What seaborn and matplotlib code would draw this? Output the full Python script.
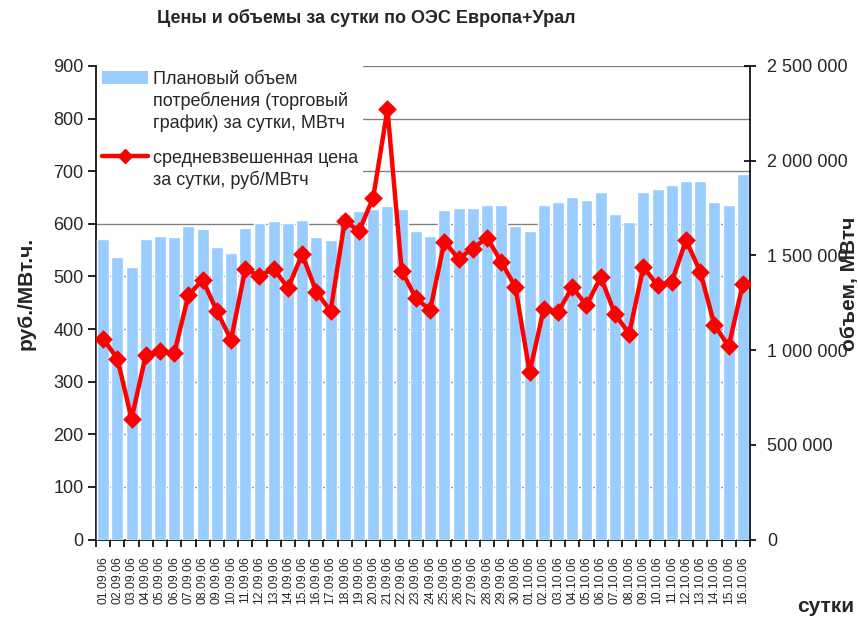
import matplotlib
matplotlib.use("Agg")
import matplotlib.pyplot as plt
from matplotlib.patches import Patch
from matplotlib.lines import Line2D
from matplotlib.ticker import FixedLocator, MultipleLocator
import seaborn as sns
import pandas as pd

# ---------------- data ----------------
dates = ['01.09.06', '02.09.06', '03.09.06', '04.09.06', '05.09.06', '06.09.06',
         '07.09.06', '08.09.06', '09.09.06', '10.09.06', '11.09.06', '12.09.06',
         '13.09.06', '14.09.06', '15.09.06', '16.09.06', '17.09.06', '18.09.06',
         '19.09.06', '20.09.06', '21.09.06', '22.09.06', '23.09.06', '24.09.06',
         '25.09.06', '26.09.06', '27.09.06', '28.09.06', '29.09.06', '30.09.06',
         '01.10.06', '02.10.06', '03.10.06', '04.10.06', '05.10.06', '06.10.06',
         '07.10.06', '08.10.06', '09.10.06', '10.10.06', '11.10.06', '12.10.06',
         '13.10.06', '14.10.06', '15.10.06', '16.10.06']

volume = [1587000, 1494000, 1441000, 1587000, 1605000, 1596000, 1656000, 1638000,
          1543000, 1512000, 1647000, 1673000, 1682000, 1673000, 1687000, 1596000,
          1582000, 1718000, 1735000, 1744000, 1761000, 1744000, 1631000, 1605000,
          1740000, 1749000, 1749000, 1767000, 1767000, 1656000, 1631000, 1767000,
          1784000, 1811000, 1793000, 1835000, 1718000, 1679000, 1835000, 1853000,
          1871000, 1895000, 1895000, 1784000, 1767000, 1929000]

price = [382, 344, 230, 350, 359, 354, 464, 494, 434, 380, 514, 501, 515, 478,
         542, 471, 434, 606, 586, 650, 818, 511, 459, 436, 566, 534, 553, 574,
         528, 480, 318, 439, 432, 480, 445, 499, 429, 391, 518, 483, 490, 569,
         509, 408, 367, 486]

price_ticks = [0, 100, 200, 300, 400, 500, 600, 700, 800, 900]
price_tick_labels = ['0', '100', '200', '300', '400', '500', '600', '700', '800', '900']
volume_ticks = [0, 500000, 1000000, 1500000, 2000000, 2500000]
volume_tick_labels = ['0', '500 000', '1 000 000', '1 500 000', '2 000 000', '2 500 000']

title = 'Цены и объемы за сутки по ОЭС Европа+Урал'
left_label = 'руб./МВт.ч.'
right_label = 'объем, МВтч'
x_label = 'сутки'
bar_label = 'Плановый объем\nпотребления (торговый\nграфик) за сутки, МВтч'
line_label = 'средневзвешенная цена\nза сутки, руб/МВтч'

# ---------------- style ----------------
sns.set_theme(style='white')
plt.rcParams['font.family'] = ['Liberation Sans', 'DejaVu Sans']
plt.rcParams['axes.unicode_minus'] = False

BAR_COLOR = '#99CCFF'
LINE_COLOR = '#FF0000'
TICK_FS = 13

df = pd.DataFrame({'date': dates, 'volume': volume, 'price': price})

W, H = 858, 632
fig = plt.figure(figsize=(W / 100, H / 100), dpi=100)
fig.patch.set_facecolor('white')
ax = fig.add_axes([96 / W, 1 - 539.6 / H, 654 / W, (539.6 - 66) / H])

# base axis: price scale, grid
ax.set_ylim(0, 900)
ax.yaxis.set_major_locator(FixedLocator(price_ticks))
ax.set_yticklabels(price_tick_labels)
ax.yaxis.grid(True, color='#808080', linewidth=1.0)
ax.xaxis.grid(False)
ax.set_axisbelow(True)

# bars (right scale)
axv = ax.twinx()
sns.barplot(data=df, x='date', y='volume', color=BAR_COLOR, saturation=1,
            width=0.84, ax=axv, zorder=2)
axv.set_ylim(0, 2500000)
axv.yaxis.set_major_locator(FixedLocator(volume_ticks))
axv.set_yticklabels(volume_tick_labels)
axv.set_ylabel('')
axv.set_xlabel('')
axv.grid(False)

# price line on top
axl = ax.twinx()
sns.pointplot(data=df, x='date', y='price', color=LINE_COLOR, markers='D',
              linestyles='-', errorbar=None, ax=axl, markersize=7,
              linewidth=3.2)
axl.set_ylim(0, 900)
axl.set_ylabel('')
axl.set_xlabel('')
axl.grid(False)
axl.yaxis.set_visible(False)
for s in axl.spines.values():
    s.set_visible(False)

ax.set_xlim(-0.5, len(dates) - 0.5)

# spines
for a in (ax, axv):
    a.spines['top'].set_visible(False)
for sp in ('left', 'bottom'):
    ax.spines[sp].set_color('black')
    ax.spines[sp].set_linewidth(1.2)
axv.spines['right'].set_color('black')
axv.spines['right'].set_linewidth(1.2)
axv.spines['left'].set_visible(False)
axv.spines['bottom'].set_visible(False)
ax.spines['right'].set_visible(False)

# ticks
ax.tick_params(axis='y', which='major', direction='out', length=6, width=1.2,
               color='black', labelsize=TICK_FS, pad=3, left=True)
axv.tick_params(axis='y', which='major', direction='inout', length=9, width=1.2,
                color='black', labelsize=TICK_FS, pad=8, right=True)
for a in (axv, axl):
    a.tick_params(axis='x', which='both', bottom=False, labelbottom=False)
ax.xaxis.set_major_locator(FixedLocator(list(range(len(dates)))))
ax.set_xticklabels(dates, rotation=90, fontsize=8.8)
ax.xaxis.set_minor_locator(MultipleLocator(1, offset=0.5))
ax.tick_params(axis='x', which='major', length=0, pad=12)
ax.tick_params(axis='x', which='minor', direction='out', length=5, width=1.2,
               color='black', bottom=True)
ax.set_xlabel('')
ax.set_ylabel('')

# legend
handles = [Patch(facecolor=BAR_COLOR, edgecolor='none'),
           Line2D([], [], color=LINE_COLOR, marker='D', linewidth=3.2, markersize=7)]
leg = axl.legend(handles, [bar_label, line_label], loc='upper left',
                 bbox_to_anchor=(0.002, 1.0), fontsize=13, frameon=True,
                 facecolor='white', edgecolor='none', framealpha=1,
                 handlelength=2.55, handleheight=0.75, handletextpad=0.3,
                 labelspacing=1.0, borderpad=0.25, borderaxespad=0.0,
                 fancybox=False)
for t in leg.get_texts():
    t.set_linespacing(1.3)
for col in leg._legend_handle_box.get_children():
    for row in col.get_children():
        row.align = 'top'

# texts
fig.text(366 / W, 1 - 18 / H, title, ha='center', va='center',
         fontsize=13, fontweight='bold')
fig.text(26 / W, 1 - 293 / H, left_label, rotation=90, ha='center', va='center',
         fontsize=15, fontweight='bold')
fig.text(840 / W, 1 - 284 / H, right_label, rotation=90, ha='left', va='center',
         fontsize=15, fontweight='bold')
fig.text(826 / W, 1 - 607 / H, x_label, ha='center', va='center',
         fontsize=15, fontweight='bold')

fig.savefig('out.png', dpi=100, facecolor='white')
